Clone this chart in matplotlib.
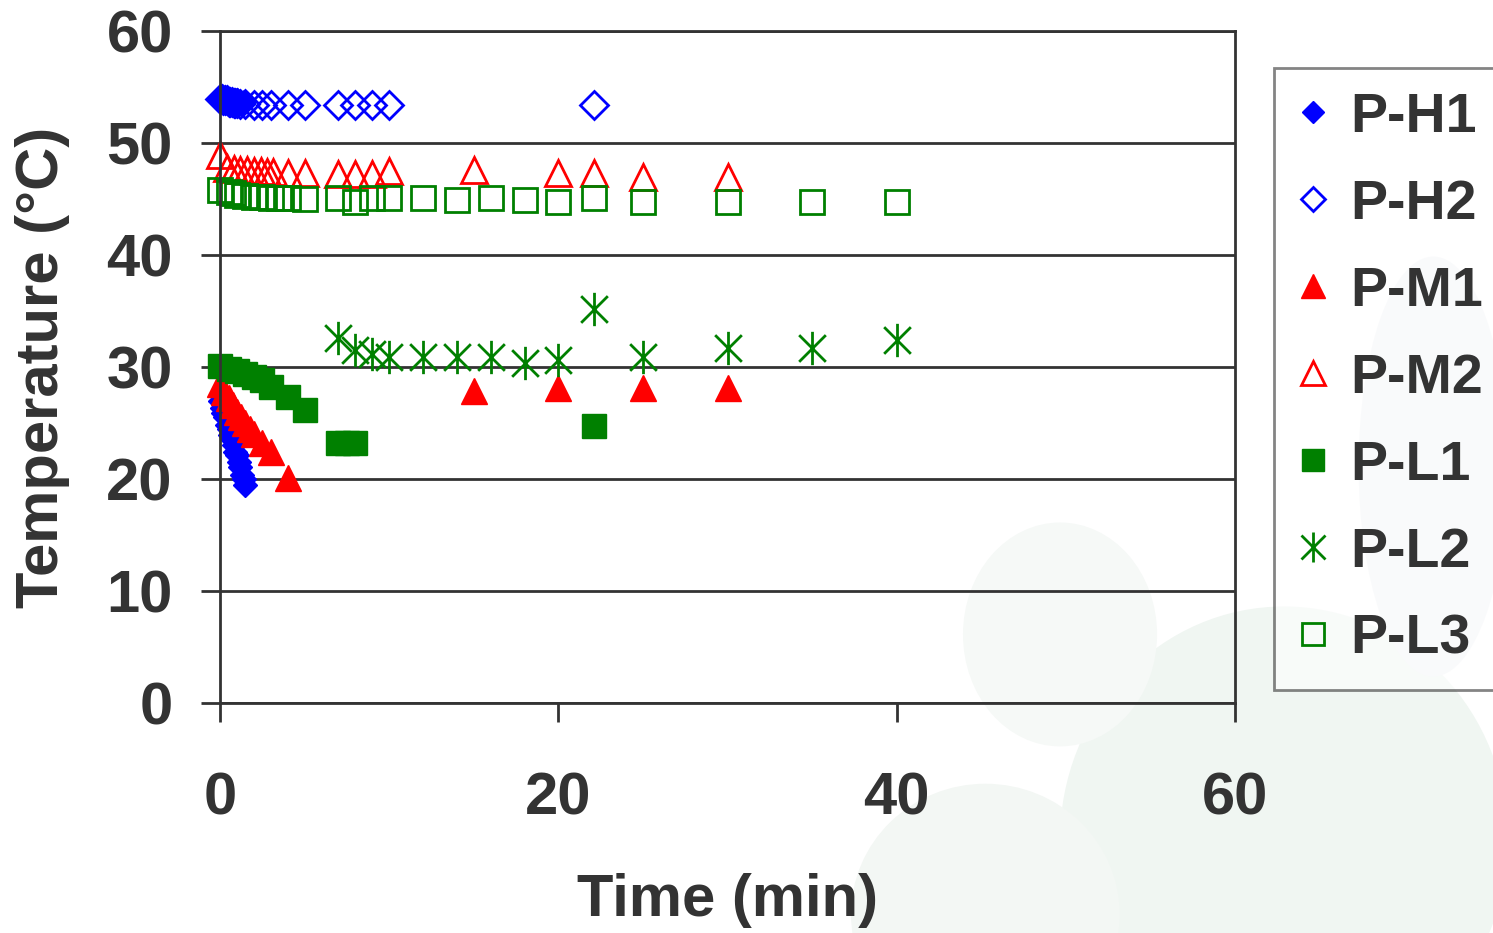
import matplotlib.pyplot as plt
from matplotlib.path import Path
from matplotlib.patches import Ellipse

plt.rcParams['font.family'] = ['Liberation Sans', 'DejaVu Sans']
plt.rcParams['font.weight'] = 'bold'
plt.rcParams['axes.labelweight'] = 'bold'

# temperature readings (min, degC)
h1_t = [0, 0.2, 0.4, 0.6, 0.8, 1.0, 1.2, 1.4,
        0, 0.1, 0.2, 0.3, 0.4, 0.5, 0.6, 0.7, 0.8, 0.9, 1.0, 1.1, 1.2, 1.3, 1.4, 1.5]
h1_y = [53.9, 53.9, 53.9, 53.8, 53.8, 53.8, 53.7, 53.7,
        27.0, 26.3, 25.9, 25.5, 24.8, 24.5, 23.9, 23.6, 23.0, 22.4, 22.1, 21.5, 21.1, 20.4, 20.0, 19.5]

h2_t = [0, 0.1, 0.2, 0.3, 0.4, 0.5, 0.6, 0.7, 0.8, 0.9, 1.0, 1.2, 1.5, 2.0, 2.5, 3.0, 4.0, 5.0,
        7.0, 8.0, 9.0, 10.0, 22.1]
h2_y = [53.9, 53.9, 53.8, 53.8, 53.8, 53.7, 53.7, 53.7, 53.6, 53.6, 53.6, 53.5, 53.5, 53.4, 53.4,
        53.4, 53.4, 53.4, 53.4, 53.4, 53.4, 53.4, 53.4]

m1_t = [0, 0.25, 0.5, 0.75, 1.0, 1.25, 1.5, 1.75, 2.0, 2.5, 3.0, 4.0, 15, 20, 25, 30]
m1_y = [28.5, 27.8, 27.2, 26.6, 26.0, 25.5, 25.0, 24.5, 24.0, 23.2, 22.4, 20.1,
        27.9, 28.1, 28.1, 28.1]

m2_t = [0, 0.4, 0.8, 1.2, 1.6, 2.0, 2.4, 2.8, 3.1, 4.0, 5.0, 7.0, 8.0, 9.0, 10.0,
        15, 20, 22.1, 25, 30]
m2_y = [48.9, 47.8, 47.7, 47.6, 47.6, 47.5, 47.5, 47.4, 47.4, 47.3, 47.3, 47.2, 47.2, 47.2, 47.5,
        47.6, 47.3, 47.3, 47.0, 47.0]

l1_t = [0, 0.5, 1.0, 1.5, 2.0, 2.5, 3.0, 4.0, 5.0, 7.0, 7.5, 8.0, 22.1]
l1_y = [30.1, 29.8, 29.6, 29.4, 29.1, 28.8, 28.2, 27.3, 26.2, 23.2, 23.2, 23.2, 24.7]

l2_t = [7, 8, 9, 10, 12, 14, 16, 18, 20, 22.1, 25, 30, 35, 40]
l2_y = [32.6, 31.5, 31.2, 30.9, 30.9, 30.9, 30.9, 30.4, 30.6, 35.2, 30.9, 31.7, 31.7, 32.4]

l3_t = [0, 0.5, 0.75, 1.0, 1.5, 2.0, 2.5, 3.0, 3.5, 4.0, 5.0, 7, 8, 9, 10, 12, 14, 16, 18, 20,
        22.1, 25, 30, 35, 40]
l3_y = [45.8, 45.6, 45.5, 45.4, 45.3, 45.2, 45.2, 45.1, 45.1, 45.1, 45.0, 45.1, 44.7, 45.1, 45.1,
        45.1, 44.9, 45.1, 44.9, 44.7, 45.1, 44.7, 44.7, 44.7, 44.7]

# six-armed asterisk: vertical bar plus two diagonals
star = Path([(0, -1), (0, 1), (-0.8, -0.8), (0.8, 0.8), (-0.8, 0.8), (0.8, -0.8)],
            [Path.MOVETO, Path.LINETO] * 3)

blue, red, green = '#0000ff', '#ff0000', '#008000'
dark = '#333333'

fig = plt.figure(figsize=(14.93, 9.33), dpi=100)

# faint watermark behind the chart
bg = fig.add_axes([0, 0, 1, 1], zorder=-1)
bg.set_xlim(0, 1)
bg.set_ylim(0, 1)
bg.axis('off')
for (x, y, w, h, c) in [(0.86, 0.10, 0.30, 0.50, '#f0f6f2'), (0.96, 0.50, 0.10, 0.45, '#f2f4f7'),
                        (0.71, 0.32, 0.13, 0.24, '#f6f9f7'), (0.66, 0.02, 0.18, 0.28, '#f3f7f4')]:
    bg.add_patch(Ellipse((x, y), w, h, color=c, lw=0))

ax = fig.add_axes([0.1474, 0.2465, 0.6798, 0.7203])
ax.set_facecolor('none')

kw = dict(linestyle='none', clip_on=False)
ax.plot(h1_t, h1_y, marker='D', ms=12, color=blue, label='P-H1', **kw)
ax.plot(h2_t, h2_y, marker='D', ms=14, mfc='none', mec=blue, mew=2, label='P-H2', **kw)
ax.plot(m1_t, m1_y, marker='^', ms=19, color=red, label='P-M1', **kw)
ax.plot(m2_t, m2_y, marker='^', ms=19, mfc='none', mec=red, mew=2, label='P-M2', **kw)
ax.plot(l1_t, l1_y, marker='s', ms=17, color=green, label='P-L1', **kw)
ax.plot(l2_t, l2_y, marker=star, ms=24, mfc='none', mec=green, mew=2, label='P-L2', **kw)
ax.plot(l3_t, l3_y, marker='s', ms=17, mfc='none', mec=green, mew=2, label='P-L3', **kw)

ax.set_xlim(0, 60)
ax.set_ylim(0, 60)
ax.set_xticks([0, 20, 40, 60])
ax.set_yticks(range(0, 61, 10))
ax.yaxis.grid(True, color=dark, linewidth=2)
ax.set_axisbelow(True)
for s in ax.spines.values():
    s.set_color(dark)
    s.set_linewidth(2)
ax.tick_params(axis='both', direction='out', length=14, width=2, color=dark,
               labelsize=43, labelcolor=dark)
ax.tick_params(axis='x', pad=35)
ax.tick_params(axis='y', pad=20)

ax.set_xlabel('Time (min)', fontsize=43, color=dark, labelpad=34)
ax.set_ylabel('Temperature (°C)', fontsize=43, color=dark, labelpad=26)

leg = ax.legend(loc='upper left', bbox_to_anchor=(1274 / 1493, 1 - 68 / 933),
                bbox_transform=fig.transFigure, fontsize=40, frameon=True, fancybox=False,
                borderaxespad=0, labelspacing=0.63, handlelength=0.54, handletextpad=0.4,
                borderpad=0.43, markerscale=0.9)
leg.get_frame().set_edgecolor(dark)
leg.get_frame().set_linewidth(2)
leg.get_frame().set_facecolor('white')
leg.get_frame().set_alpha(0.6)
for t in leg.get_texts():
    t.set_color(dark)

fig.savefig('out.png', dpi=100)
